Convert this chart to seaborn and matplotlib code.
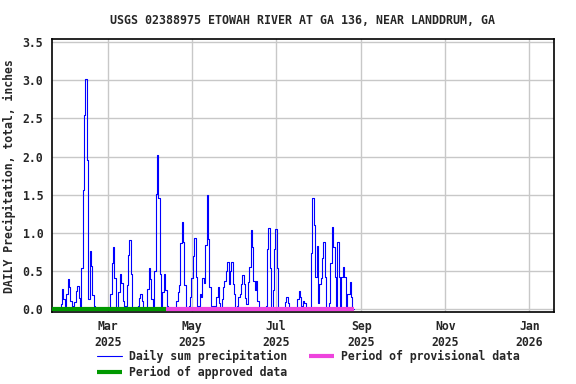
import numpy as np
import pandas as pd
import seaborn as sns
import matplotlib.pyplot as plt

# rain days (inches)
rain_dates = [
    "2025-01-26", "2025-01-27", "2025-01-28", "2025-01-30", "2025-01-31", "2025-02-01", "2025-02-02",
    "2025-02-04", "2025-02-05", "2025-02-06", "2025-02-07", "2025-02-08",
    "2025-02-10", "2025-02-11", "2025-02-12", "2025-02-13", "2025-02-14", "2025-02-15", "2025-02-16",
    "2025-02-17", "2025-02-18", "2025-02-19",
    "2025-03-03", "2025-03-04", "2025-03-05", "2025-03-06",
    "2025-03-09", "2025-03-10", "2025-03-11", "2025-03-12",
    "2025-03-14", "2025-03-15", "2025-03-16", "2025-03-17", "2025-03-18",
    "2025-03-23", "2025-03-24", "2025-03-25", "2025-03-26",
    "2025-03-30", "2025-03-31", "2025-04-01", "2025-04-02",
    "2025-04-04", "2025-04-05", "2025-04-06", "2025-04-07", "2025-04-08",
    "2025-04-10", "2025-04-11", "2025-04-12", "2025-04-13",
    "2025-04-20", "2025-04-21", "2025-04-22", "2025-04-23", "2025-04-24", "2025-04-25", "2025-04-26", "2025-04-27",
    "2025-04-29", "2025-04-30", "2025-05-01", "2025-05-02", "2025-05-03", "2025-05-04",
    "2025-05-06", "2025-05-07", "2025-05-08", "2025-05-09", "2025-05-10", "2025-05-11", "2025-05-12",
    "2025-05-13", "2025-05-14", "2025-05-15", "2025-05-17",
    "2025-05-19", "2025-05-20", "2025-05-21",
    "2025-05-23", "2025-05-24", "2025-05-25", "2025-05-26", "2025-05-27", "2025-05-28", "2025-05-29",
    "2025-05-30", "2025-05-31", "2025-06-01",
    "2025-06-03", "2025-06-04", "2025-06-05", "2025-06-06", "2025-06-07", "2025-06-08", "2025-06-09", "2025-06-10",
    "2025-06-11", "2025-06-12", "2025-06-13", "2025-06-14", "2025-06-15", "2025-06-16", "2025-06-17", "2025-06-18",
    "2025-06-24", "2025-06-25", "2025-06-26", "2025-06-27",
    "2025-06-29", "2025-06-30", "2025-07-01", "2025-07-02",
    "2025-07-08", "2025-07-09", "2025-07-10",
    "2025-07-17", "2025-07-18", "2025-07-19", "2025-07-20", "2025-07-21", "2025-07-22",
    "2025-07-27", "2025-07-28", "2025-07-29", "2025-07-30", "2025-07-31", "2025-08-01", "2025-08-02",
    "2025-08-03", "2025-08-04", "2025-08-05", "2025-08-06",
    "2025-08-09", "2025-08-10", "2025-08-11", "2025-08-12", "2025-08-13", "2025-08-14", "2025-08-15", "2025-08-16",
    "2025-08-18", "2025-08-19", "2025-08-20",
    "2025-08-22", "2025-08-23", "2025-08-24", "2025-08-25",
]
rain_inches = [
    0.06, 0.26, 0.13, 0.19, 0.39, 0.28, 0.10,
    0.04, 0.09, 0.23, 0.30, 0.14,
    0.53, 1.56, 2.54, 3.02, 1.95, 0.13, 0.76,
    0.56, 0.18, 0.03,
    0.19, 0.60, 0.81, 0.40,
    0.22, 0.46, 0.34, 0.10,
    0.04, 0.31, 0.70, 0.90, 0.45,
    0.04, 0.14, 0.20, 0.10,
    0.26, 0.53, 0.39, 0.13,
    0.49, 1.51, 2.02, 1.46, 0.45,
    0.22, 0.45, 0.25, 0.03,
    0.10, 0.22, 0.31, 0.86, 1.14, 0.88, 0.31, 0.02,
    0.04, 0.15, 0.40, 0.69, 0.93, 0.42,
    0.03, 0.19, 0.15, 0.40, 0.34, 0.84, 1.50,
    0.92, 0.29, 0.03, 0.03,
    0.15, 0.29, 0.08,
    0.13, 0.29, 0.37, 0.49, 0.61, 0.32, 0.50,
    0.61, 0.32, 0.19,
    0.04, 0.15, 0.20, 0.33, 0.44, 0.32, 0.14, 0.06,
    0.35, 0.55, 1.03, 0.81, 0.37, 0.25, 0.37, 0.10,
    0.03, 0.79, 1.06, 0.54,
    0.24, 0.79, 1.05, 0.53,
    0.09, 0.15, 0.08,
    0.13, 0.23, 0.15, 0.04, 0.10, 0.07,
    0.73, 1.46, 1.10, 0.42, 0.83, 0.07, 0.32,
    0.41, 0.67, 0.88, 0.42,
    0.07, 0.60, 1.07, 0.81, 0.42, 0.03, 0.88, 0.42,
    0.42, 0.55, 0.42,
    0.19, 0.20, 0.35, 0.15,
]
record_start = "2025-01-19"
record_end = "2025-08-27"
approved_end = "2025-04-12"

tick_dates = ["2025-03-01", "2025-05-01", "2025-07-01", "2025-09-01", "2025-11-01", "2026-01-01"]
tick_labels = ["Mar\n2025", "May\n2025", "Jul\n2025", "Sep\n2025", "Nov\n2025", "Jan\n2026"]
y_ticks = [0.0, 0.5, 1.0, 1.5, 2.0, 2.5, 3.0, 3.5]

# full daily series, dry days are zero
days = pd.date_range(record_start, record_end, freq="D")
rain = pd.Series(rain_inches, index=pd.to_datetime(rain_dates))
daily = pd.DataFrame({"date": days, "precip": rain.reindex(days, fill_value=0.0).values})

sns.set_style("white")
plt.rcParams["font.family"] = ["DejaVu Sans Mono"]
plt.rcParams["font.weight"] = "bold"

fig = plt.figure(figsize=(5.76, 3.84), dpi=100)
ax = fig.add_axes([51.7 / 576, 1 - 312 / 384, (554 - 51.7) / 576, (312 - 39.3) / 384])

sns.lineplot(data=daily, x="date", y="precip", ax=ax, color="#0000ff", linewidth=0.8,
             drawstyle="steps-mid", label="Daily sum precipitation", legend=False)
ax.plot(pd.to_datetime([record_start, approved_end]), [0, 0], color="#009900", linewidth=3,
        solid_capstyle="butt", label="Period of approved data", zorder=3)
ax.plot(pd.to_datetime([approved_end, record_end]), [0, 0], color="#ee44dd", linewidth=3,
        solid_capstyle="butt", label="Period of provisional data", zorder=3)

ax.set_xlim(pd.Timestamp("2025-01-19"), pd.Timestamp("2026-01-19"))
ax.set_ylim(-0.043, 3.54)
ax.set_xticks(pd.to_datetime(tick_dates))
ax.set_xticklabels(tick_labels, fontsize=8.3, fontweight="bold", linespacing=1.3)
ax.set_yticks(y_ticks)
ax.set_yticklabels([f"{v:.1f}" for v in y_ticks], fontsize=8.3, fontweight="bold")
ax.tick_params(axis="x", length=0, pad=6)
ax.tick_params(axis="y", length=2, pad=4)
ax.grid(True, color="#c8c8c8", linewidth=1)
for s in ax.spines.values():
    s.set_color("black")
    s.set_linewidth(1.2)
ax.set_xlabel("")
ax.set_ylabel("DAILY Precipitation, total, inches", fontsize=8.3, fontweight="bold", labelpad=5)
ax.set_title("USGS 02388975 ETOWAH RIVER AT GA 136, NEAR LANDDRUM, GA",
             fontsize=8.4, fontweight="bold", pad=11)

h, l = ax.get_legend_handles_labels()
fig.legend(h, l, ncol=2, loc="upper left", bbox_to_anchor=(0.158, 0.105),
           frameon=False, fontsize=8.3, handlelength=2.2, columnspacing=1.9,
           handletextpad=0.6, labelspacing=0.3, borderpad=0.0)

fig.savefig("out.png", dpi=100)
